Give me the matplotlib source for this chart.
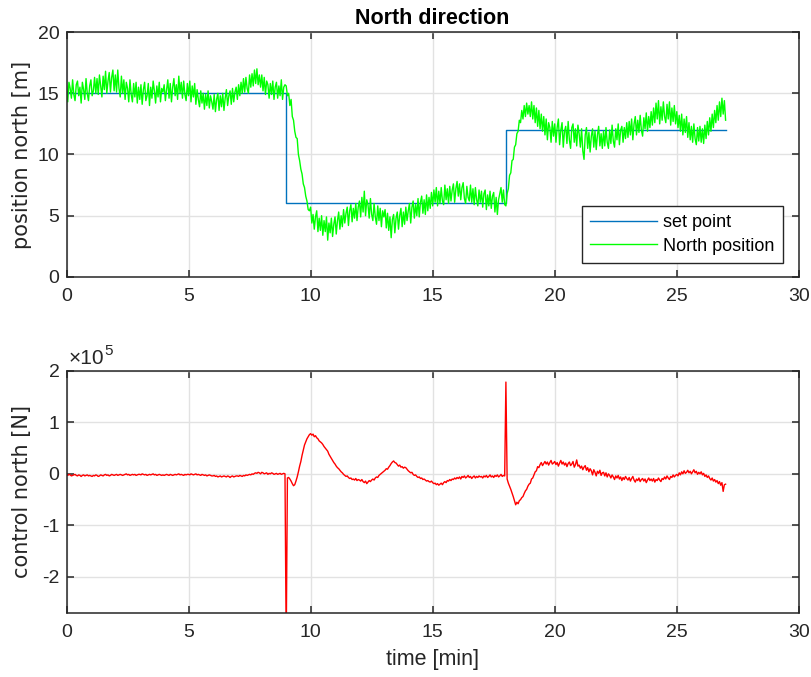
import numpy as np
import matplotlib
matplotlib.use("Agg")
import matplotlib.pyplot as plt

plt.rcParams['font.family'] = ['Liberation Sans', 'DejaVu Sans']
plt.rcParams['axes.unicode_minus'] = False

# ---- data -------------------------------------------------------------
dt = 0.05  # sample period [min]

# set point (piecewise constant, steps at 9 and 18 min)
setpoint_time = [0, 9, 18, 27]
setpoint_north = [15, 6, 12, 12]

# measured north position [m], one row per minute (20 samples)
north_position = [
    15.6, 14.3, 15.9, 15.4, 14.6, 16.1, 14.9, 14.4, 15.7, 16.0, 14.8, 15.5, 14.2, 15.9, 15.3, 14.5, 16.2, 15.0, 14.4, 15.6,
    16.1, 14.8, 15.2, 16.3, 15.0, 16.2, 14.9, 16.5, 15.6, 14.7, 16.4, 15.3, 16.8, 15.0, 16.0, 16.7, 15.1, 16.3, 16.9, 15.2,
    16.5, 15.1, 16.9, 15.4, 14.7, 16.4, 15.0, 16.1, 14.5, 15.9, 15.4, 14.3, 16.1, 14.9, 14.3, 15.8, 14.7, 15.9, 14.2, 15.5,
    14.5, 15.7, 14.1, 15.3, 15.9, 14.4, 14.8, 15.8, 14.0, 15.5, 14.6, 16.0, 15.2, 14.2, 15.6, 14.7, 15.9, 14.3, 15.4, 15.1,
    15.7, 14.4, 15.3, 16.1, 14.6, 15.8, 14.3, 15.5, 16.2, 14.8, 15.7, 14.5, 16.4, 15.0, 15.9, 14.6, 16.0, 14.9, 14.4, 15.8,
    14.8, 16.0, 14.3, 15.6, 14.7, 15.8, 14.1, 15.3, 14.5, 13.9, 15.2, 14.2, 15.0, 13.7, 14.9, 14.0, 15.2, 13.8, 14.8, 14.3,
    13.7, 14.9, 13.5, 14.5, 15.0, 13.6, 14.8, 13.9, 15.0, 13.6, 14.6, 15.3, 14.0, 14.8, 15.2, 14.1, 15.4, 14.3, 15.1, 15.5,
    14.5, 15.7, 14.8, 15.9, 15.0, 16.2, 15.1, 16.3, 15.4, 15.0, 16.5, 15.5, 16.6, 15.6, 16.9, 15.8, 17.0, 15.7, 16.5, 15.5,
    16.5, 15.2, 16.3, 14.9, 16.0, 15.7, 14.6, 15.8, 14.9, 16.0, 14.5, 15.5, 15.9, 14.6, 15.6, 14.8, 16.1, 14.5, 15.5, 15.7,
    15.6, 14.8, 15.0, 14.0, 14.5, 13.1, 12.8, 11.9, 11.4, 11.3, 10.0, 9.5, 8.8, 8.4, 7.6, 7.3, 6.6, 6.2, 5.5, 5.4,
    5.7, 4.4, 5.1, 3.9, 4.9, 5.4, 3.7, 4.8, 3.8, 5.0, 3.4, 4.6, 3.7, 4.9, 3.0, 4.4, 3.6, 4.8, 3.3, 4.3,
    4.9, 3.5, 4.6, 5.3, 3.9, 5.0, 4.1, 5.5, 4.4, 5.2, 5.7, 4.2, 5.4, 5.9, 4.5, 5.6, 4.8, 6.0, 4.6, 5.7,
    6.2, 4.9, 6.5, 5.3, 7.0, 5.0, 6.3, 5.9, 4.8, 6.4, 5.1, 4.6, 6.0, 4.9, 4.3, 5.8, 4.6, 5.6, 4.1, 5.4,
    4.9, 5.5, 4.0, 5.2, 3.8, 4.9, 3.2, 4.7, 5.1, 3.6, 4.8, 5.3, 3.9, 5.0, 5.6, 4.1, 5.3, 4.3, 5.7, 4.6,
    5.4, 6.0, 4.4, 5.7, 6.2, 4.8, 5.9, 5.0, 6.4, 4.9, 6.1, 6.6, 5.2, 6.3, 5.1, 6.7, 5.4, 6.5, 5.6, 6.9,
    5.8, 7.1, 6.1, 7.3, 5.8, 7.0, 6.0, 7.3, 6.2, 5.9, 7.5, 6.3, 7.2, 6.0, 7.4, 6.2, 7.1, 7.6, 6.1, 7.2,
    7.8, 6.6, 7.6, 6.3, 7.3, 7.7, 6.4, 6.0, 7.4, 6.5, 6.2, 7.5, 6.1, 7.2, 5.9, 7.3, 6.3, 5.8, 7.1, 6.1,
    7.0, 5.7, 6.8, 7.1, 5.5, 6.7, 5.8, 7.0, 5.6, 6.6, 6.9, 5.3, 6.5, 5.1, 6.3, 6.8, 7.3, 6.1, 7.1, 5.9,
    5.8, 6.8, 7.2, 8.3, 8.5, 9.5, 9.6, 10.6, 10.8, 11.7, 11.9, 12.8, 12.6, 13.6, 12.9, 14.0, 13.1, 14.2, 13.3, 14.0,
    13.1, 14.3, 12.9, 14.0, 12.6, 13.8, 12.3, 13.6, 12.1, 13.3, 11.9, 13.1, 11.6, 12.9, 11.2, 12.6, 12.2, 11.0, 12.7, 11.5,
    12.5, 11.0, 12.2, 12.9, 10.8, 12.0, 12.6, 10.6, 11.9, 12.3, 10.9, 12.7, 11.2, 10.5, 12.2, 12.5, 11.0, 12.1, 10.7, 12.4,
    11.7, 10.6, 12.1, 10.3, 9.6, 11.6, 12.2, 10.5, 11.8, 10.2, 11.5, 12.1, 10.6, 11.9, 10.4, 11.6, 12.3, 10.7, 11.7, 10.5,
    11.9, 10.7, 12.2, 11.0, 10.5, 12.0, 10.9, 12.4, 11.1, 10.6, 12.1, 11.2, 12.5, 10.8, 12.0, 12.3, 11.0, 12.2, 11.3, 12.6,
    11.4, 12.7, 11.6, 12.9, 11.2, 12.5, 13.1, 11.6, 12.8, 11.8, 13.2, 12.0, 11.5, 13.0, 12.1, 13.4, 11.9, 13.1, 12.2, 13.5,
    12.4, 13.8, 12.6, 14.2, 12.9, 14.4, 12.5, 13.9, 12.8, 14.3, 13.1, 12.6, 14.1, 12.9, 14.3, 12.4, 13.8, 12.7, 14.0, 12.5,
    13.5, 12.2, 13.2, 11.9, 13.3, 11.6, 12.9, 11.8, 13.1, 11.4, 12.6, 11.2, 12.3, 11.0, 12.5, 11.3, 10.8, 12.2, 11.1, 12.3,
    11.0, 12.1, 10.9, 12.4, 11.3, 12.7, 11.6, 13.0, 11.9, 13.3, 12.2, 13.6, 12.6, 14.0, 12.8, 14.3, 13.1, 14.6, 13.3, 14.4,
    12.8,
]

# control force north [x 1e5 N], one row per minute (20 samples)
control_north = [
    -0.02, -0.03, -0.01, -0.02, -0.04, -0.03, -0.02, -0.01, -0.03, -0.04, -0.02, -0.03, -0.05, -0.03, -0.02, -0.04, -0.03, -0.02, -0.04, -0.03,
    -0.04, -0.05, -0.03, -0.04, -0.02, -0.03, -0.05, -0.04, -0.02, -0.03, -0.04, -0.02, -0.01, -0.03, -0.02, -0.04, -0.03, -0.01, -0.02, -0.03,
    -0.02, -0.01, -0.03, -0.02, -0.01, -0.02, -0.03, -0.02, -0.01, 0.00, -0.02, -0.01, -0.03, -0.02, -0.01, -0.02, -0.01, -0.03, -0.02, -0.01,
    -0.01, -0.02, 0.00, -0.01, -0.02, -0.01, -0.03, -0.02, -0.01, -0.02, -0.01, 0.00, -0.02, -0.01, -0.03, -0.02, -0.01, -0.02, -0.03, -0.02,
    -0.03, -0.02, -0.01, -0.02, -0.03, -0.01, -0.02, -0.03, -0.02, -0.01, -0.02, -0.01, 0.00, -0.02, -0.01, -0.02, -0.03, -0.01, -0.02, -0.01,
    -0.01, -0.02, 0.00, -0.01, -0.02, -0.01, 0.00, -0.02, -0.01, -0.02, -0.03, -0.01, -0.02, -0.03, -0.02, -0.04, -0.03, -0.02, -0.03, -0.04,
    -0.04, -0.03, -0.05, -0.04, -0.06, -0.05, -0.04, -0.06, -0.05, -0.04, -0.05, -0.06, -0.04, -0.05, -0.07, -0.05, -0.04, -0.06, -0.05, -0.04,
    -0.04, -0.05, -0.03, -0.04, -0.05, -0.03, -0.04, -0.02, -0.03, -0.02, -0.01, -0.02, 0.00, -0.01, 0.01, 0.02, 0.01, 0.03, 0.02, 0.00,
    0.03, 0.02, 0.00, 0.01, 0.02, -0.01, 0.01, 0.00, 0.02, 0.01, -0.01, 0.00, 0.01, -0.01, 0.00, 0.01, -0.01, 0.00, 0.01, 0.00,
    -3.30, -0.08, -0.07, -0.10, -0.14, -0.19, -0.23, -0.21, -0.14, -0.06, 0.04, 0.15, 0.24, 0.36, 0.46, 0.56, 0.62, 0.68, 0.72, 0.76,
    0.78, 0.75, 0.77, 0.72, 0.74, 0.70, 0.68, 0.64, 0.62, 0.60, 0.57, 0.53, 0.50, 0.47, 0.44, 0.38, 0.34, 0.30, 0.26, 0.22,
    0.19, 0.15, 0.12, 0.10, 0.07, 0.04, 0.02, -0.01, -0.03, -0.05, -0.04, -0.07, -0.09, -0.08, -0.11, -0.10, -0.12, -0.09, -0.13, -0.11,
    -0.12, -0.14, -0.11, -0.15, -0.17, -0.14, -0.19, -0.16, -0.13, -0.15, -0.12, -0.10, -0.12, -0.08, -0.06, -0.07, -0.03, -0.01, 0.01, 0.03,
    0.05, 0.07, 0.10, 0.09, 0.13, 0.16, 0.20, 0.23, 0.25, 0.22, 0.21, 0.18, 0.15, 0.17, 0.13, 0.14, 0.11, 0.13, 0.12, 0.09,
    0.06, 0.04, 0.02, 0.03, -0.01, -0.03, -0.02, -0.05, -0.07, -0.06, -0.09, -0.08, -0.11, -0.10, -0.12, -0.14, -0.13, -0.15, -0.16, -0.14,
    -0.17, -0.19, -0.18, -0.21, -0.19, -0.22, -0.20, -0.18, -0.21, -0.17, -0.15, -0.17, -0.13, -0.14, -0.11, -0.13, -0.10, -0.11, -0.08, -0.10,
    -0.07, -0.09, -0.06, -0.10, -0.05, -0.07, -0.04, -0.08, -0.06, -0.03, -0.07, -0.05, -0.09, -0.06, -0.04, -0.08, -0.05, -0.07, -0.04, -0.06,
    -0.05, -0.08, -0.04, -0.06, -0.03, -0.07, -0.05, -0.02, -0.06, -0.04, -0.07, -0.03, -0.05, -0.02, -0.06, -0.04, -0.01, -0.05, -0.03, -0.04,
    1.78, -0.10, -0.18, -0.24, -0.30, -0.37, -0.44, -0.52, -0.60, -0.55, -0.58, -0.52, -0.50, -0.46, -0.44, -0.38, -0.33, -0.30, -0.24, -0.20,
    -0.18, -0.10, -0.08, -0.02, 0.04, 0.06, 0.14, 0.12, 0.18, 0.22, 0.16, 0.20, 0.24, 0.19, 0.23, 0.17, 0.22, 0.26, 0.19, 0.21,
    0.24, 0.18, 0.22, 0.15, 0.21, 0.26, 0.19, 0.23, 0.17, 0.21, 0.14, 0.20, 0.23, 0.16, 0.19, 0.24, 0.13, 0.18, 0.27, 0.15,
    0.17, 0.11, 0.15, 0.08, 0.13, 0.16, 0.07, 0.12, 0.04, 0.10, 0.06, -0.02, 0.08, 0.03, -0.04, 0.05, 0.01, 0.07, -0.03, 0.02,
    0.03, -0.04, 0.02, -0.06, 0.00, -0.03, -0.08, -0.02, -0.06, -0.11, -0.04, -0.08, -0.03, -0.10, -0.06, -0.13, -0.07, -0.11, -0.05, -0.09,
    -0.12, -0.07, -0.14, -0.09, -0.05, -0.12, -0.16, -0.10, -0.13, -0.08, -0.15, -0.11, -0.09, -0.14, -0.10, -0.17, -0.12, -0.08, -0.13, -0.10,
    -0.14, -0.09, -0.16, -0.11, -0.13, -0.08, -0.12, -0.15, -0.09, -0.11, -0.06, -0.10, -0.04, -0.08, -0.11, -0.05, -0.07, -0.02, -0.06, -0.03,
    -0.01, -0.04, 0.02, -0.02, 0.04, 0.00, 0.06, 0.01, 0.03, 0.07, 0.02, 0.05, 0.00, 0.04, 0.08, 0.02, 0.05, -0.01, 0.03, 0.00,
    0.04, -0.02, 0.01, -0.05, -0.02, -0.07, -0.04, -0.09, -0.12, -0.08, -0.14, -0.11, -0.16, -0.13, -0.19, -0.15, -0.22, -0.17, -0.34, -0.21,
    -0.20,
]

x_ticks = [0, 5, 10, 15, 20, 25, 30]
pos_ticks = [0, 5, 10, 15, 20]
ctrl_ticks = [-2, -1, 0, 1, 2]

time_pos = np.arange(len(north_position)) * dt
time_ctrl = np.arange(len(control_north)) * dt

# ---- styling helpers --------------------------------------------------
AX_COLOR = '#262626'
GRID_COLOR = '#e2e2e2'
TICK_FS = 14
LABEL_FS = 15.5


def style_axes(ax):
    for sp in ax.spines.values():
        sp.set_color(AX_COLOR)
        sp.set_linewidth(1.1)
    ax.tick_params(direction='in', length=5, width=1.1, color=AX_COLOR,
                   labelcolor=AX_COLOR, labelsize=TICK_FS,
                   top=True, right=True)
    ax.tick_params(axis='x', pad=8)
    ax.tick_params(axis='y', pad=5)
    ax.grid(True, color=GRID_COLOR, linewidth=1.0)
    ax.set_axisbelow(True)
    ax.set_xlim(0, 30)
    ax.set_xticks(x_ticks)


fig = plt.figure(figsize=(8.11, 6.77), dpi=100)
ax1 = fig.add_axes([0.082, 0.591, 0.903, 0.3616])
ax2 = fig.add_axes([0.082, 0.0944, 0.903, 0.358])

ylabel_font = dict(fontsize=15, color=AX_COLOR, family=['DejaVu Sans'])

# ---- north position ---------------------------------------------------
style_axes(ax1)
ax1.plot(setpoint_time, setpoint_north, drawstyle='steps-post',
         color='#0072BD', linewidth=1.0, label='set point')
ax1.plot(time_pos, north_position, color='#00FF00', linewidth=1.0,
         label='North position')
ax1.set_ylim(0, 20)
ax1.set_yticks(pos_ticks)
ax1.set_ylabel('position north [m]', **ylabel_font)
ax1.yaxis.set_label_coords(-0.047, 0.5)
ax1.set_title('North direction', fontsize=LABEL_FS, fontweight='bold',
              color='black', pad=6)
leg = ax1.legend(loc='lower right', bbox_to_anchor=(0.978, 0.058),
                 fontsize=13, frameon=True, fancybox=False, framealpha=1,
                 edgecolor=AX_COLOR, handlelength=3.7, handletextpad=0.35,
                 labelspacing=0.35, borderpad=0.45, borderaxespad=0)
leg.get_frame().set_linewidth(1.0)

# ---- control force ----------------------------------------------------
style_axes(ax2)
ax2.plot(time_ctrl, control_north, color='#FF0000', linewidth=1.0)
ax2.set_ylim(-2.7, 2)
ax2.set_yticks(ctrl_ticks)
ax2.set_ylabel('control north [N]', **ylabel_font)
ax2.yaxis.set_label_coords(-0.047, 0.5)
ax2.set_xlabel('time [min]', fontsize=LABEL_FS, color=AX_COLOR)
ax2.xaxis.set_label_coords(0.5, -0.15)
ax2.text(0.003, 1.01, '×10', transform=ax2.transAxes,
         ha='left', va='bottom', fontsize=15, color=AX_COLOR)
ax2.text(0.051, 1.052, '5', transform=ax2.transAxes,
         ha='left', va='bottom', fontsize=11, color=AX_COLOR)

fig.savefig('out.png', dpi=100)
